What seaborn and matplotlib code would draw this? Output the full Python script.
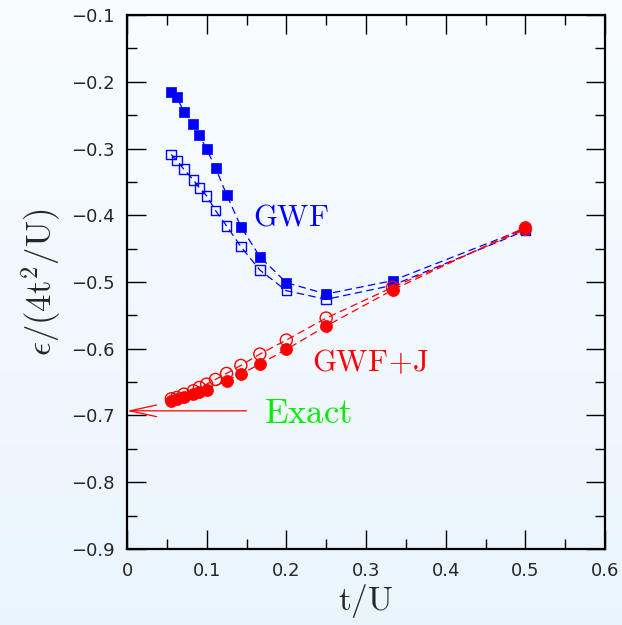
import numpy as np
import pandas as pd
import matplotlib
matplotlib.use("Agg")
import matplotlib.pyplot as plt
import seaborn as sns
from matplotlib.ticker import MultipleLocator, FuncFormatter

# t/U values (1/18 ... 1/2)
t_gwf = [0.0556, 0.0625, 0.0714, 0.0833, 0.0909, 0.1000, 0.1111,
         0.1250, 0.1429, 0.1667, 0.2000, 0.2500, 0.3333, 0.5000]
t_gwfj_filled = [0.0556, 0.0625, 0.0714, 0.0833, 0.0909, 0.1000,
                 0.1250, 0.1429, 0.1667, 0.2000, 0.2500, 0.3333, 0.5000]

# energies per bond, in units of 4t^2/U
gwf_filled = [-0.216, -0.223, -0.245, -0.263, -0.280, -0.301, -0.329,
              -0.369, -0.417, -0.462, -0.501, -0.518, -0.498, -0.420]
gwf_open = [-0.309, -0.318, -0.331, -0.347, -0.359, -0.371, -0.393,
            -0.416, -0.447, -0.482, -0.513, -0.526, -0.505, -0.423]
gwfj_open = [-0.675, -0.673, -0.668, -0.663, -0.658, -0.653, -0.646,
             -0.637, -0.625, -0.608, -0.587, -0.554, -0.508, -0.421]
gwfj_filled = [-0.678, -0.676, -0.673, -0.668, -0.665, -0.662,
               -0.648, -0.638, -0.623, -0.601, -0.566, -0.512, -0.418]
exact = -0.693

x_ticks = [0, 0.1, 0.2, 0.3, 0.4, 0.5, 0.6]
y_ticks = [-0.9, -0.8, -0.7, -0.6, -0.5, -0.4, -0.3, -0.2, -0.1]

df = pd.concat([
    pd.DataFrame({"t": t_gwf, "e": gwf_filled, "series": "gwf_filled"}),
    pd.DataFrame({"t": t_gwf, "e": gwf_open, "series": "gwf_open"}),
    pd.DataFrame({"t": t_gwf, "e": gwfj_open, "series": "gwfj_open"}),
    pd.DataFrame({"t": t_gwfj_filled, "e": gwfj_filled, "series": "gwfj_filled"}),
], ignore_index=True)

sns.set_theme(style="ticks")
plt.rcParams["mathtext.fontset"] = "cm"
plt.rcParams["font.family"] = ["DejaVu Sans"]

BLUE = "#0000ff"
RED = "#ff0000"
GREEN = "#00ee00"

fig = plt.figure(figsize=(6.22, 6.25), dpi=100)

# soft vertical gradient behind everything
bg = fig.add_axes([0, 0, 1, 1], zorder=-10)
grad = np.linspace(0, 1, 256)[:, None]
top = np.array([0.975, 0.990, 1.0])
bottom = np.array([0.918, 0.960, 0.992])
img = top[None, None, :] * (1 - grad[..., None]) + bottom[None, None, :] * grad[..., None]
bg.imshow(np.repeat(img, 4, axis=1), aspect="auto", extent=[0, 1, 0, 1])
bg.set_axis_off()

ax = fig.add_axes([127 / 622, 1 - 549 / 625, (605 - 127) / 622, (549 - 15) / 625])
ax.set_facecolor("none")

palette = {"gwf_filled": BLUE, "gwf_open": BLUE, "gwfj_open": RED, "gwfj_filled": RED}
sns.lineplot(data=df, x="t", y="e", hue="series", palette=palette,
             estimator=None, sort=True, legend=False, ax=ax,
             linewidth=0.9, dashes=False)
for line in ax.get_lines():
    line.set_dashes([6, 3.5])

sub = lambda s: df[df.series == s]
sns.scatterplot(data=sub("gwf_filled"), x="t", y="e", marker="s", s=48,
                color=BLUE, edgecolor=BLUE, linewidth=0.5, ax=ax, zorder=3)
sns.scatterplot(data=sub("gwf_open"), x="t", y="e", marker="s", s=48,
                facecolor="none", edgecolor=BLUE, linewidth=1.0, ax=ax, zorder=3)
sns.scatterplot(data=sub("gwfj_filled"), x="t", y="e", marker="o", s=75,
                color=RED, edgecolor=RED, linewidth=0.5, ax=ax, zorder=3)
sns.scatterplot(data=sub("gwfj_open"), x="t", y="e", marker="o", s=75,
                facecolor="none", edgecolor=RED, linewidth=1.0, ax=ax, zorder=3)

# arrow marking the exact value
ax.annotate("", xy=(0.0, exact), xytext=(0.150, exact),
            arrowprops=dict(arrowstyle="->,head_length=1.6,head_width=0.35",
                            color=RED, lw=0.9, shrinkA=0, shrinkB=0))

ax.text(0.158, -0.402, r"$\mathrm{GWF}$", color=BLUE, fontsize=22, va="center", ha="left")
ax.text(0.232, -0.621, r"$\mathrm{GWF\!+\!J}$", color=RED, fontsize=22, va="center", ha="left")
ax.text(0.172, -0.696, r"$\mathrm{Exact}$", color=GREEN, fontsize=25, va="center", ha="left")

ax.set_xlim(0, 0.6)
ax.set_ylim(-0.9, -0.1)
ax.set_xticks(x_ticks)
ax.set_yticks(y_ticks)
ax.xaxis.set_minor_locator(MultipleLocator(0.05))
ax.yaxis.set_minor_locator(MultipleLocator(0.05))
fmt = FuncFormatter(lambda v, p: "0" if abs(v) < 1e-9 else f"{v:.1f}".replace("-", "\u2212"))
ax.xaxis.set_major_formatter(fmt)
ax.yaxis.set_major_formatter(fmt)
ax.tick_params(which="both", direction="in", top=True, right=True, color="black")
ax.tick_params(which="major", length=14, width=1.0, labelsize=13, pad=9)
ax.tick_params(which="minor", length=7, width=1.0)
for sp in ax.spines.values():
    sp.set_linewidth(1.6)
    sp.set_color("black")

ax.set_xlabel(r"$\mathrm{t/U}$", fontsize=24, labelpad=2)
ax.set_ylabel(r"$\epsilon/(4\mathrm{t}^2/\mathrm{U})$", fontsize=25, labelpad=6)

fig.savefig("out.png", dpi=100)
